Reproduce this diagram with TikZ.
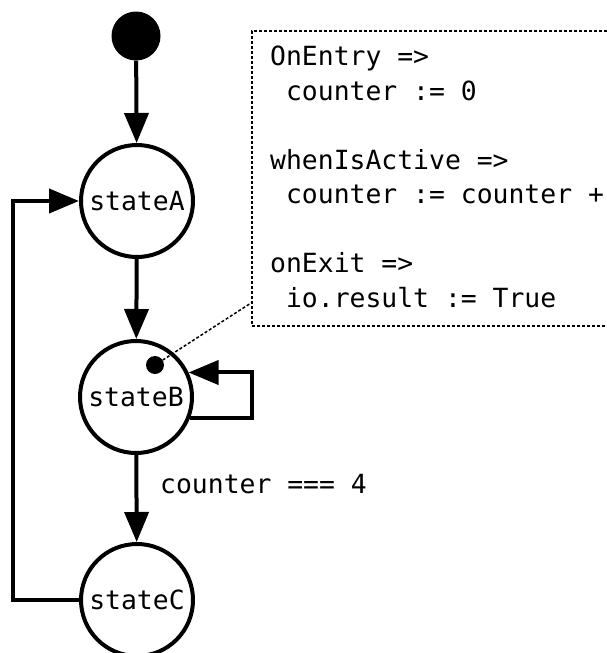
\documentclass[tikz,border=0pt]{standalone}
\usepackage{fontspec}
\setmonofont{DejaVu Sans Mono}
\usetikzlibrary{arrows.meta}
\begin{document}
\begin{tikzpicture}[x=1pt,y=-1pt,
  txt/.style={font=\ttfamily\fontsize{26.4}{34.5}\selectfont},
  state/.style={circle,draw,line width=4pt,minimum size=112pt,inner sep=0pt,txt},
  conn/.style={line width=4pt,-{Triangle[length=30pt,width=24pt]}},
  plainline/.style={line width=4pt},
  notedash/.style={line width=1.5pt,dash pattern=on 3pt off 2pt},
]
\useasboundingbox (0,0) rectangle (606,653);
\node[circle,fill=black,minimum size=49pt,inner sep=0pt] (init) at (136,36) {};
\node[state] (A) at (137,201) {stateA};
\node[state] (B) at (136,397) {stateB};
\node[state] (C) at (137,600) {stateC};
\node[circle,fill=black,minimum size=18pt,inner sep=0pt] (bdot) at (155,365) {};
\node[draw,notedash,anchor=north west,minimum width=420pt,minimum height=295pt,
  inner sep=0pt] (note) at (251,30) {};
\node[txt,anchor=base west,align=left,inner sep=0pt] (notetext) at (270,307)
  {OnEntry =>\\
   \ counter := 0\\[34.5pt]
   whenIsActive =>\\
   \ counter := counter +\\[34.5pt]
   onExit =>\\
   \ io.result := True};
\node[txt,anchor=base west,inner sep=0pt] (guard) at (160,493) {counter === 4};
\coordinate (loopc) at (252,395);
\coordinate (retc) at (13,400);
\coordinate (notecorner) at (251,303);
\draw[conn] (init) -- (A);
\draw[conn] (A) -- (B);
\draw[conn] (B) -- (C);
\draw[plainline] (B.-21) -| (loopc);
\draw[conn] (loopc) |- (B.25);
\draw[plainline] (C.west) -| (retc);
\draw[conn] (retc) |- (A.west);
\draw[notedash] (bdot) -- (notecorner);
\end{tikzpicture}
\end{document}
